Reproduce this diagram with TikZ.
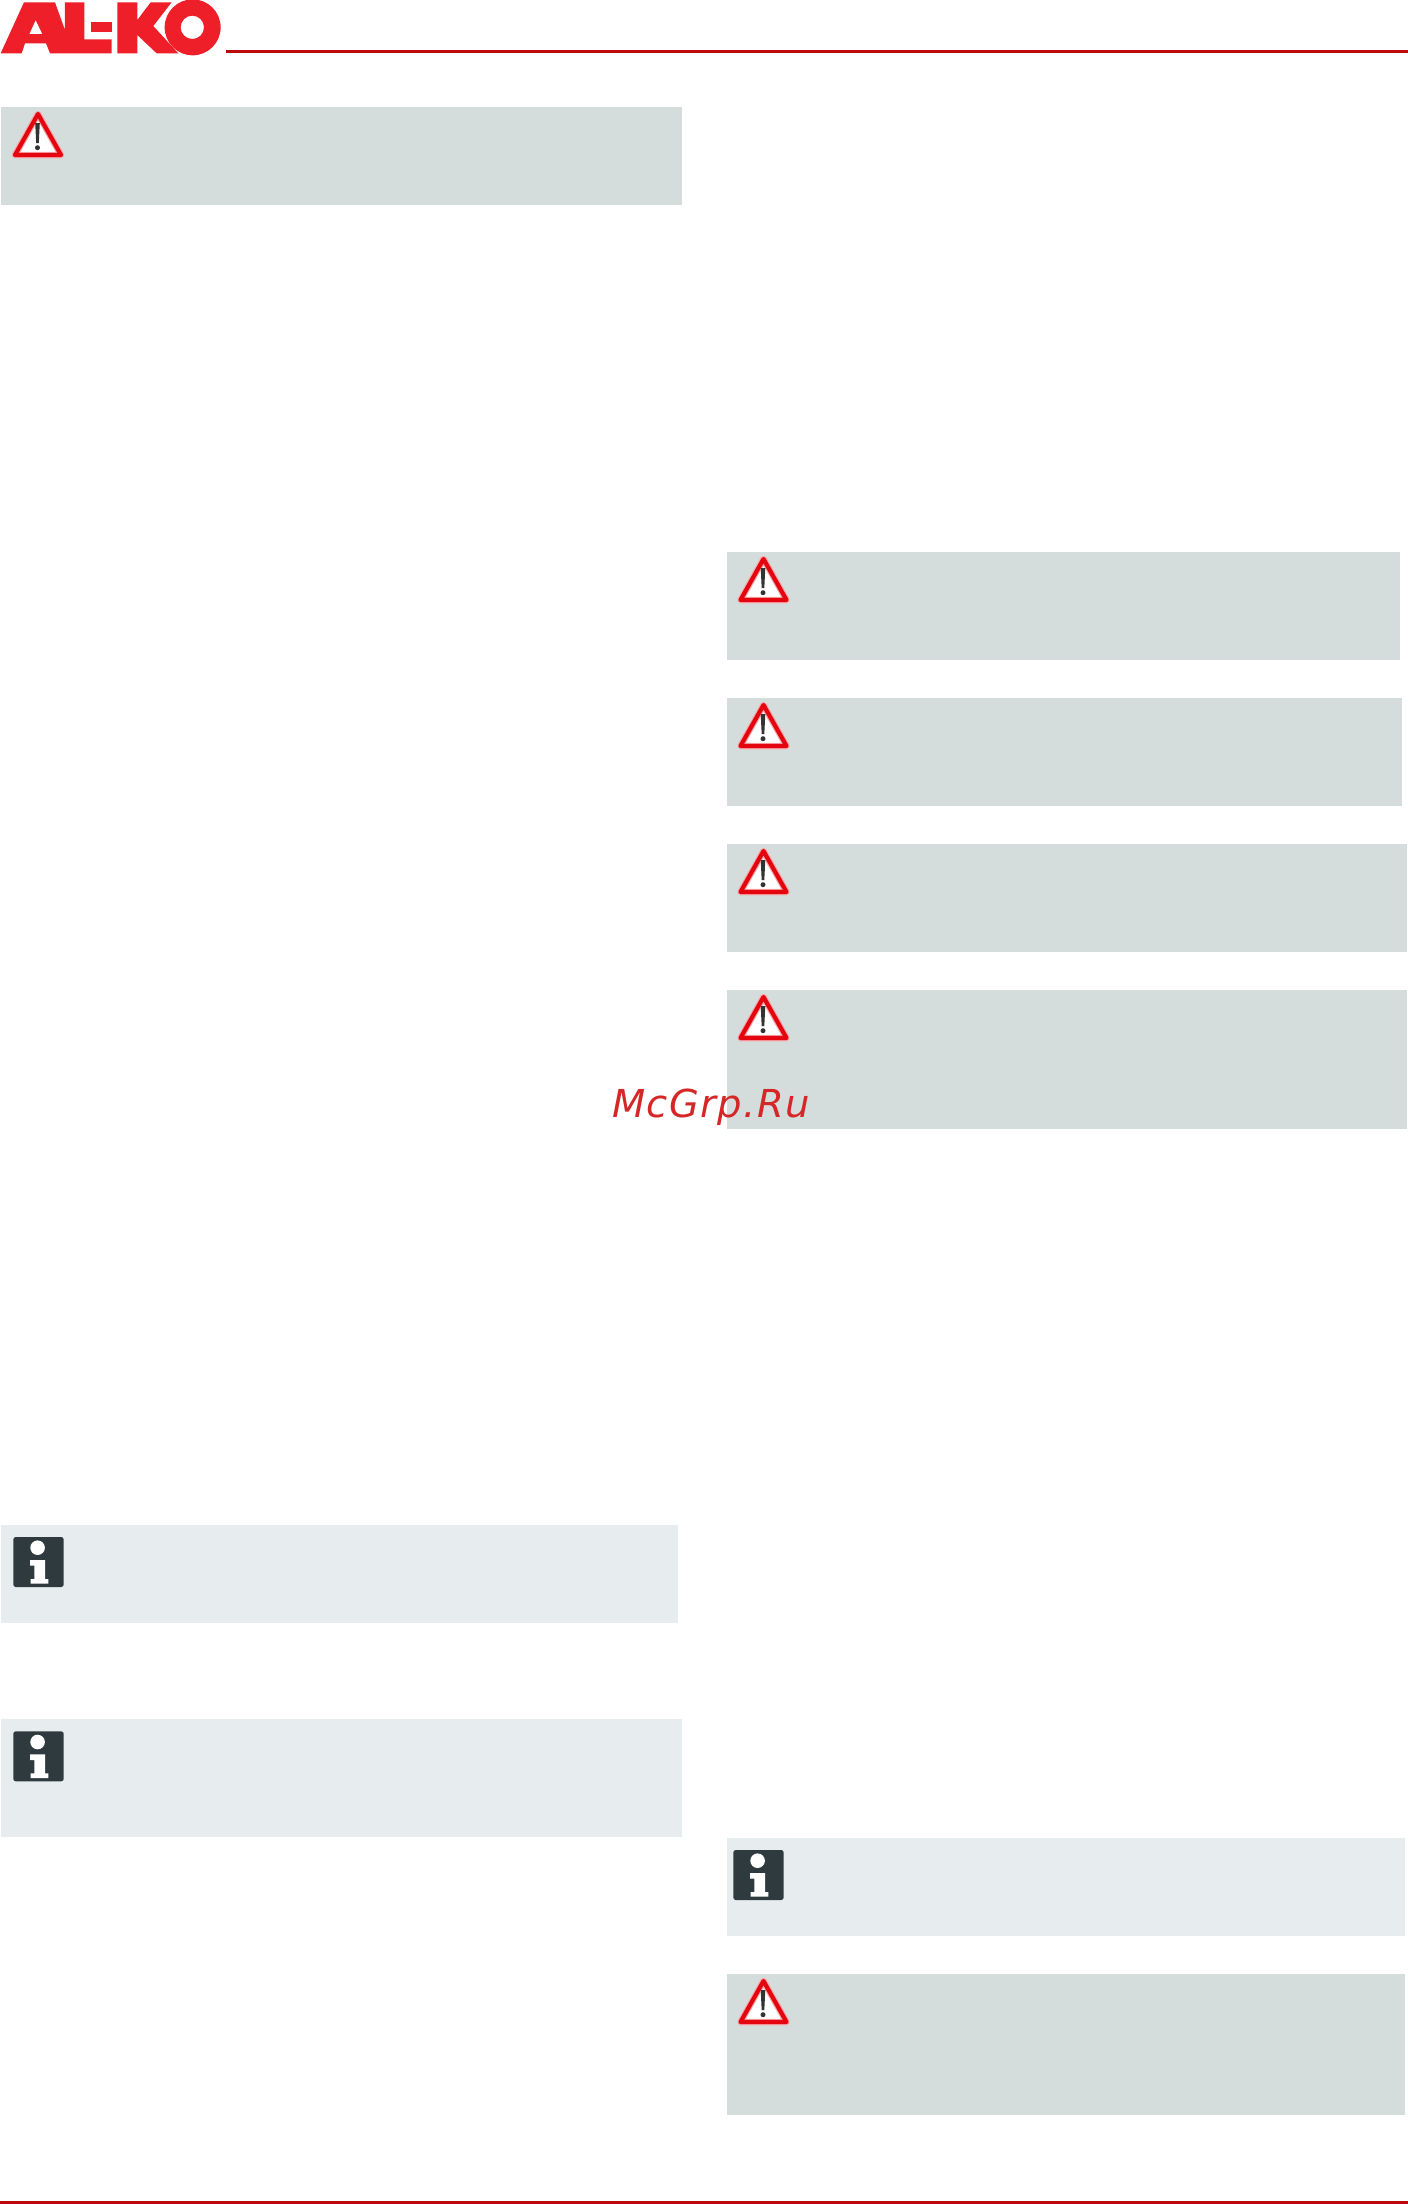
\documentclass[tikz,border=0pt]{standalone}
\usepackage{fontspec}
\newfontfamily\wmfont[LetterSpace=3.5]{DejaVu Sans}
\definecolor{logored}{HTML}{EE1F29}
\definecolor{rulered}{HTML}{BC0A0A}
\definecolor{warnbg}{HTML}{D5DDDC}
\definecolor{infobg}{HTML}{E7ECEE}
\definecolor{icondark}{HTML}{2F3A3F}
\definecolor{trired}{HTML}{E5050F}
\definecolor{wmred}{HTML}{D62728}
\tikzset{
  warnfill/.style={fill=warnbg,draw=none},
  infofill/.style={fill=infobg,draw=none},
  logofill/.style={fill=logored,draw=none,even odd rule},
  rulebar/.style={fill=rulered,draw=none},
  triglow/.style={draw=trired!35,line width=6.5pt,line join=round,fill=white},
  triline/.style={draw=trired,line width=4.2pt,line join=round},
  markfill/.style={fill=black!80,draw=none},
  iconfill/.style={fill=icondark,draw=none,rounded corners=2.5pt},
  iconmark/.style={fill=white,draw=none},
}
\newcommand{\warnbox}[4]{%
  \fill[warnfill] (#1,#2) rectangle (#3,#4);
  \begin{scope}[shift={(#1,#2)}]
    \draw[triglow] (14,48) -- (37,7) -- (60,48) -- cycle;
    \draw[triline] (14,48) -- (37,7) -- (60,48) -- cycle;
    \fill[markfill] (34.2,16) -- (38.8,16) -- (37.8,36) -- (35.2,36) -- cycle;
    \fill[markfill] (36.5,40.7) circle (2.5);
  \end{scope}}
% #5 = left offset of the icon inside the box
\newcommand{\infobox}[5]{%
  \fill[infofill] (#1,#2) rectangle (#3,#4);
  \begin{scope}[shift={(#1+#5,#2+12)}]
    \fill[iconfill] (0,0) rectangle (50.4,50);
    \fill[iconmark] (24.3,10.7) circle (7.3);
    \fill[iconmark] (16.7,23) -- (31.7,23) -- (31.7,42) -- (35,42) -- (35,46.7)
      -- (17.3,46.7) -- (17.3,42) -- (21,42) -- (21,28.7) -- (16.7,28.7) -- cycle;
  \end{scope}}
\begin{document}
\begin{tikzpicture}[x=1pt,y=-1pt]
\useasboundingbox (0,0) rectangle (1408,2204);
% logo
\begin{scope}[x=0.3333pt,y=-0.3333pt]
  \fill[logofill] (2,160) -- (72,7) -- (165,7) -- (195,90) -- (195,7) -- (253,7)
    -- (253,118) -- (335,118) -- (335,160) -- (150,160) -- (138,130) -- (75,130) -- (65,160) -- cycle
    (88,102) -- (127,102) -- (107,60) -- cycle;
  \fill[logofill] (272,65) rectangle (335,97);
  \fill[logofill] (352,7) -- (412,7) -- (412,60) -- (452,7) -- (515,7) -- (460,78)
    -- (535,160) -- (470,160) -- (412,105) -- (412,160) -- (352,160) -- cycle;
  \fill[logofill] (578,82) circle (84) (577,82) circle (35);
\end{scope}
% rules
\fill[rulebar] (226,50) rectangle (1408,52.7);
\fill[rulebar] (0,2201) rectangle (1408,2204);
% boxes
\warnbox{1}{107}{682}{205}
\warnbox{726.5}{552}{1400}{660}
\warnbox{726.5}{698}{1401.7}{806}
\warnbox{726.5}{844}{1407}{952}
\warnbox{726.5}{990}{1407}{1129}
\warnbox{726.5}{1974}{1405}{2115}
\infobox{1}{1525}{678}{1622.7}{12.3}
\infobox{1}{1719.3}{682}{1837.3}{12.3}
\infobox{726.5}{1838}{1405}{1935.7}{6.8}
% watermark
\node[anchor=base west,inner sep=0pt,text=wmred,font=\wmfont\itshape\fontsize{38.5}{41}\selectfont] (wm) at (612,1117) {McGrp.Ru};
\end{tikzpicture}
\end{document}
